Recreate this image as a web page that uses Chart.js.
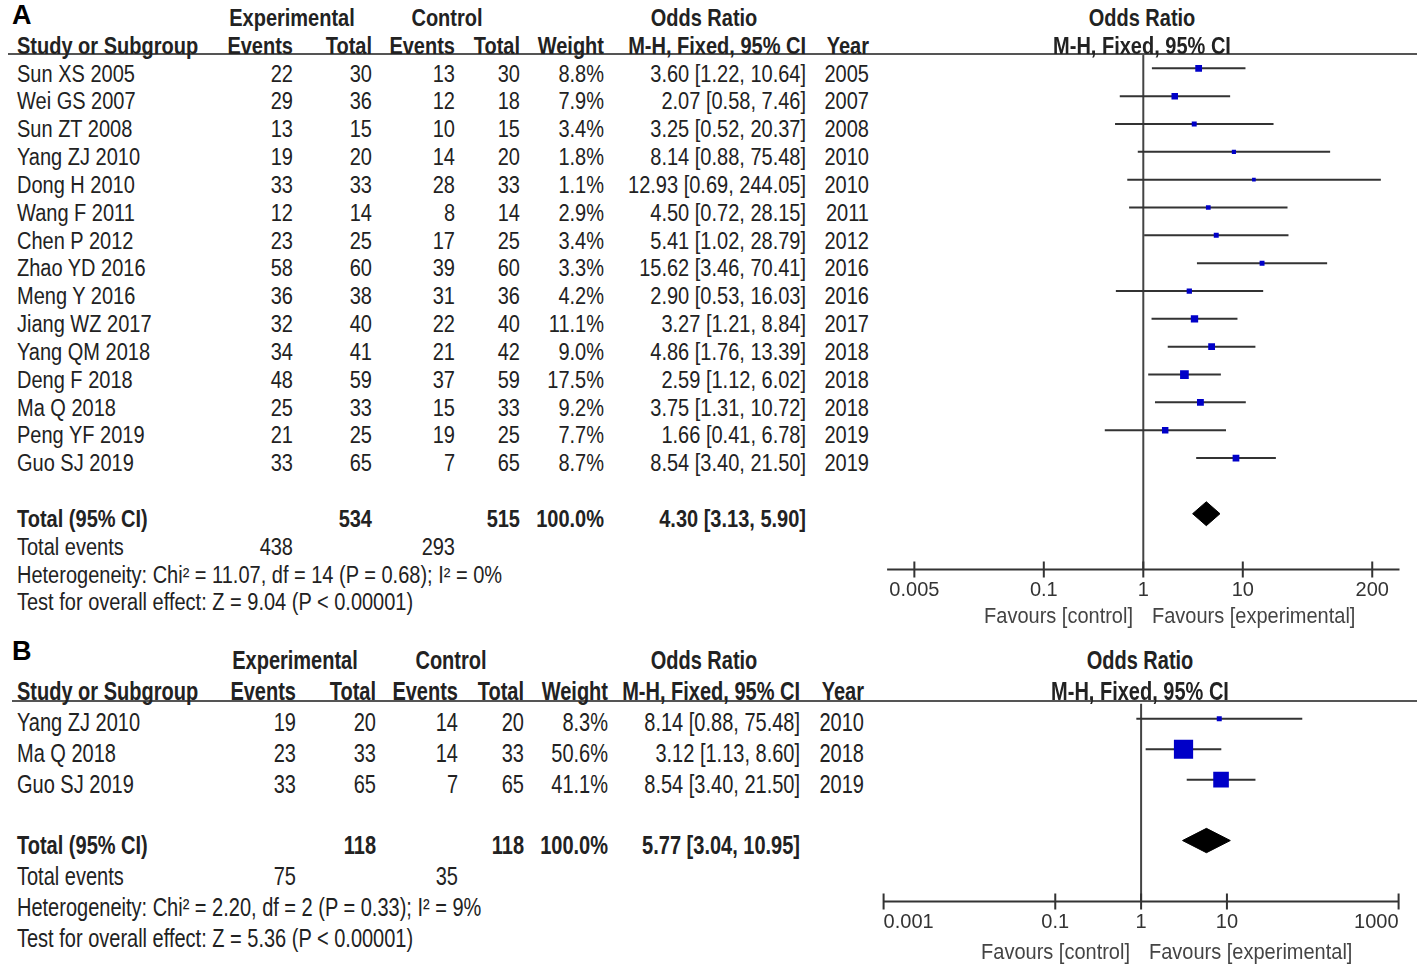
<!DOCTYPE html>
<html>
<head>
<meta charset="utf-8">
<script src="https://cdn.jsdelivr.net/npm/chart.js@4.4.1/dist/chart.umd.min.js"></script>
<style>
  body { margin: 0; background: #fff; }
  #page { position: relative; width: 1417px; height: 966px; overflow: hidden;
          font-family: "Liberation Sans", Arial, sans-serif; color: #222; }
  .t { position: absolute; white-space: nowrap; font-size: 20px; line-height: 20px; }
  .b { font-weight: bold; }
  .hline { position: absolute; height: 2px; background: #555; }
  .box { position: absolute; }
</style>
</head>
<body>
<div id="page">
  <div class="hline" style="left:8px;top:53px;width:1409px"></div>
  <div class="hline" style="left:12px;top:700px;width:1405px"></div>
  <div class="box" style="left:870px;top:40px;width:547px;height:569.4px"><canvas id="chartA"></canvas></div>
  <div class="box" style="left:870px;top:690px;width:547px;height:251.4px"><canvas id="chartB"></canvas></div>
</div>
<script>
// ---- panel A data ----
const studiesA = ["Sun XS 2005", "Wei GS 2007", "Sun ZT 2008", "Yang ZJ 2010", "Dong H 2010",
  "Wang F 2011", "Chen P 2012", "Zhao YD 2016", "Meng Y 2016", "Jiang WZ 2017",
  "Yang QM 2018", "Deng F 2018", "Ma Q 2018", "Peng YF 2019", "Guo SJ 2019"];
const expEventsA = [22, 29, 13, 19, 33, 12, 23, 58, 36, 32, 34, 48, 25, 21, 33];
const expTotalA = [30, 36, 15, 20, 33, 14, 25, 60, 38, 40, 41, 59, 33, 25, 65];
const ctrlEventsA = [13, 12, 10, 14, 28, 8, 17, 39, 31, 22, 21, 37, 15, 19, 7];
const ctrlTotalA = [30, 18, 15, 20, 33, 14, 25, 60, 36, 40, 42, 59, 33, 25, 65];
const weightA = [8.8, 7.9, 3.4, 1.8, 1.1, 2.9, 3.4, 3.3, 4.2, 11.1, 9.0, 17.5, 9.2, 7.7, 8.7];
const orA = [3.60, 2.07, 3.25, 8.14, 12.93, 4.50, 5.41, 15.62, 2.90, 3.27, 4.86, 2.59, 3.75, 1.66, 8.54];
const loA = [1.22, 0.58, 0.52, 0.88, 0.69, 0.72, 1.02, 3.46, 0.53, 1.21, 1.76, 1.12, 1.31, 0.41, 3.40];
const hiA = [10.64, 7.46, 20.37, 75.48, 244.05, 28.15, 28.79, 70.41, 16.03, 8.84, 13.39, 6.02, 10.72, 6.78, 21.50];
const yearA = [2005, 2007, 2008, 2010, 2010, 2011, 2012, 2016, 2016, 2017, 2018, 2018, 2018, 2019, 2019];
const totalsA = [534, 515];          // experimental total, control total
const eventsA = [438, 293];          // total events
const pooledA = [4.30, 3.13, 5.90];  // OR, lower, upper
const hetA = "Heterogeneity: Chi² = 11.07, df = 14 (P = 0.68); I² = 0%";
const testA = "Test for overall effect: Z = 9.04 (P < 0.00001)";
const ticksA = [0.005, 0.1, 1, 10, 200];

// ---- panel B data ----
const studiesB = ["Yang ZJ 2010", "Ma Q 2018", "Guo SJ 2019"];
const expEventsB = [19, 23, 33];
const expTotalB = [20, 33, 65];
const ctrlEventsB = [14, 14, 7];
const ctrlTotalB = [20, 33, 65];
const weightB = [8.3, 50.6, 41.1];
const orB = [8.14, 3.12, 8.54];
const loB = [0.88, 1.13, 3.40];
const hiB = [75.48, 8.60, 21.50];
const yearB = [2010, 2018, 2019];
const totalsB = [118, 118];
const eventsB = [75, 35];
const pooledB = [5.77, 3.04, 10.95];
const hetB = "Heterogeneity: Chi² = 2.20, df = 2 (P = 0.33); I² = 9%";
const testB = "Test for overall effect: Z = 5.36 (P < 0.00001)";
const ticksB = [0.001, 0.1, 1, 10, 1000];

const page = document.getElementById('page');

// place a text item centred vertically on y
function put(s, x, y, align, bold, sy, extra) {
  const d = document.createElement('div');
  d.className = 't' + (bold ? ' b' : '');
  d.textContent = s;
  d.style.left = x + 'px';
  d.style.top = y + 'px';
  const tx = align === 'right' ? '-100%' : align === 'center' ? '-50%' : '0';
  d.style.transform = 'translate(' + tx + ',-50%) scaleY(' + sy + ')';
  if (extra) Object.assign(d.style, extra);
  page.appendChild(d);
}

function ciText(o, l, h) {
  return o.toFixed(2) + ' [' + l.toFixed(2) + ', ' + h.toFixed(2) + ']';
}

// left hand table of one panel
function table(p) {
  const c = p.cols, ty = r => p.y0 + p.dy * r, sy = p.sy;
  put(p.letter, 12, p.letterY, 'left', true, 1, {fontSize: '27px', color: '#000'});
  put('Experimental', c.expHead, ty(-2), 'center', true, sy);
  put('Control', c.ctlHead, ty(-2), 'center', true, sy);
  put('Odds Ratio', c.orHead, ty(-2), 'center', true, sy);
  put('Odds Ratio', c.plot, ty(-2), 'center', true, sy);
  put('Study or Subgroup', 17, ty(-1), 'left', true, sy);
  put('Events', c.expE, ty(-1), 'right', true, sy);
  put('Total', c.expT, ty(-1), 'right', true, sy);
  put('Events', c.ctlE, ty(-1), 'right', true, sy);
  put('Total', c.ctlT, ty(-1), 'right', true, sy);
  put('Weight', c.w, ty(-1), 'right', true, sy);
  put('M-H, Fixed, 95% CI', c.ci, ty(-1), 'right', true, sy);
  put('Year', c.yr, ty(-1), 'right', true, sy);
  put('M-H, Fixed, 95% CI', c.plot, ty(-1), 'center', true, sy);

  p.studies.forEach((s, i) => {
    const y = ty(i);
    put(s, 17, y, 'left', false, sy);
    put(String(p.expE[i]), c.expE, y, 'right', false, sy);
    put(String(p.expT[i]), c.expT, y, 'right', false, sy);
    put(String(p.ctlE[i]), c.ctlE, y, 'right', false, sy);
    put(String(p.ctlT[i]), c.ctlT, y, 'right', false, sy);
    put(p.w[i].toFixed(1) + '%', c.w, y, 'right', false, sy);
    put(ciText(p.or[i], p.lo[i], p.hi[i]), c.ci, y, 'right', false, sy);
    put(String(p.year[i]), c.yr, y, 'right', false, sy);
  });

  const n = p.studies.length;
  put('Total (95% CI)', 17, ty(n + 1), 'left', true, sy);
  put(String(p.totals[0]), c.expT, ty(n + 1), 'right', true, sy);
  put(String(p.totals[1]), c.ctlT, ty(n + 1), 'right', true, sy);
  put('100.0%', c.w, ty(n + 1), 'right', true, sy);
  put(ciText(p.pooled[0], p.pooled[1], p.pooled[2]), c.ci, ty(n + 1), 'right', true, sy);
  put('Total events', 17, ty(n + 2), 'left', false, sy);
  put(String(p.events[0]), c.expE, ty(n + 2), 'right', false, sy);
  put(String(p.events[1]), c.ctlE, ty(n + 2), 'right', false, sy);
  put(p.het, 17, ty(n + 3), 'left', false, sy);
  put(p.test, 17, ty(n + 4), 'left', false, sy);

  put('Favours [control]', p.favL, p.favY, 'right', false, 1.1, {color: '#444'});
  put('Favours [experimental]', p.favR, p.favY, 'left', false, 1.1, {color: '#444'});
}

// axis line with tick marks crossing it
const axisPlugin = {
  id: 'forestAxis',
  afterDatasetsDraw(chart, args, opts) {
    const {ctx, scales: {x, y}} = chart;
    const yy = y.getPixelForValue(opts.row);
    ctx.save();
    ctx.strokeStyle = '#333';
    ctx.lineWidth = 2;
    ctx.beginPath();
    ctx.moveTo(x.left, yy);
    ctx.lineTo(x.right, yy);
    opts.ticks.forEach(v => {
      const xx = x.getPixelForValue(v);
      ctx.moveTo(xx, yy - 8);
      ctx.lineTo(xx, yy + 8);
    });
    ctx.stroke();
    ctx.restore();
  }
};

function forest(id, p) {
  const n = p.or.length, totRow = n + 1, axisRow = n + 3;
  const ci = [];
  p.lo.forEach((l, i) => { ci.push({x: l, y: i}, {x: p.hi[i], y: i}, {x: p.hi[i], y: null}); });
  const squares = p.or.map((o, i) => ({x: o, y: i}));
  const radii = p.w.map(w => p.side(w) / Math.SQRT2);
  const dh = p.diamondH;
  const diamond = [
    {x: p.pooled[1], y: totRow}, {x: p.pooled[0], y: totRow - dh},
    {x: p.pooled[2], y: totRow}, {x: p.pooled[0], y: totRow + dh},
    {x: p.pooled[1], y: totRow}
  ];

  return new Chart(document.getElementById(id), {
    type: 'scatter',
    data: {
      datasets: [
        { data: squares, pointStyle: 'rect', pointRadius: radii,
          pointBackgroundColor: '#0000c8', pointBorderColor: '#0000c8', pointBorderWidth: 0 },
        { data: diamond, showLine: true, fill: 'shape', tension: 0, pointRadius: 0,
          borderColor: '#000', borderWidth: 1, backgroundColor: '#000' },
        { data: ci, showLine: true, spanGaps: false, pointRadius: 0,
          borderColor: '#333', borderWidth: 2 },
        { data: [{x: 1, y: -0.5}, {x: 1, y: axisRow}], showLine: true, pointRadius: 0,
          borderColor: '#444', borderWidth: 2 }
      ]
    },
    options: {
      responsive: true,
      maintainAspectRatio: false,
      animation: false,
      events: [],
      layout: { padding: p.pad },
      plugins: {
        legend: { display: false },
        tooltip: { enabled: false },
        forestAxis: { row: axisRow, ticks: p.ticks }
      },
      scales: {
        x: {
          type: 'logarithmic', position: 'bottom', min: p.min, max: p.max,
          afterBuildTicks: s => { s.ticks = p.ticks.map(v => ({value: v})); },
          afterFit: s => { s.height = 40; },
          grid: { display: false, drawTicks: false },
          border: { display: false },
          ticks: { autoSkip: false, maxRotation: 0, minRotation: 0, padding: 9,
                   align: p.align, color: '#333',
                   font: { family: 'Liberation Sans', size: 20 },
                   callback: v => String(v) }
        },
        y: { type: 'linear', display: false, reverse: true, min: -0.5, max: axisRow }
      }
    },
    plugins: [axisPlugin]
  });
}

table({
  letter: 'A', letterY: 15, y0: 73.5, dy: 27.84, sy: 1.15,
  cols: {expHead: 292, ctlHead: 447, orHead: 704, plot: 1142,
         expE: 293, expT: 372, ctlE: 455, ctlT: 520, w: 604, ci: 806, yr: 869},
  studies: studiesA, expE: expEventsA, expT: expTotalA, ctlE: ctrlEventsA, ctlT: ctrlTotalA,
  w: weightA, or: orA, lo: loA, hi: hiA, year: yearA,
  totals: totalsA, events: eventsA, pooled: pooledA, het: hetA, test: testA,
  favL: 1133, favR: 1152, favY: 615
});

table({
  letter: 'B', letterY: 651, y0: 722, dy: 30.8, sy: 1.27,
  cols: {expHead: 295, ctlHead: 451, orHead: 704, plot: 1140,
         expE: 296, expT: 376, ctlE: 458, ctlT: 524, w: 608, ci: 800, yr: 864},
  studies: studiesB, expE: expEventsB, expT: expTotalB, ctlE: ctrlEventsB, ctlT: ctrlTotalB,
  w: weightB, or: orB, lo: loB, hi: hiB, year: yearB,
  totals: totalsB, events: eventsB, pooled: pooledB, het: hetB, test: testB,
  favL: 1130, favR: 1149, favY: 951
});

forest('chartA', {
  or: orA, lo: loA, hi: hiA, w: weightA, pooled: pooledA, ticks: ticksA,
  min: Math.pow(10, -2.575), max: Math.pow(10, 2.575), align: 'center',
  pad: {left: 17.1, right: 17.5, top: 14.4, bottom: 0},
  side: w => 2 + 1.6 * Math.sqrt(w), diamondH: 0.43
});

forest('chartB', {
  or: orB, lo: loB, hi: hiB, w: weightB, pooled: pooledB, ticks: ticksB,
  min: 0.001, max: 1000, align: 'inner',
  pad: {left: 13.3, right: 18.4, top: 10.9, bottom: 0},
  side: w => Math.max(5, 0.38 * w), diamondH: 0.4
});
</script>
</body>
</html>
